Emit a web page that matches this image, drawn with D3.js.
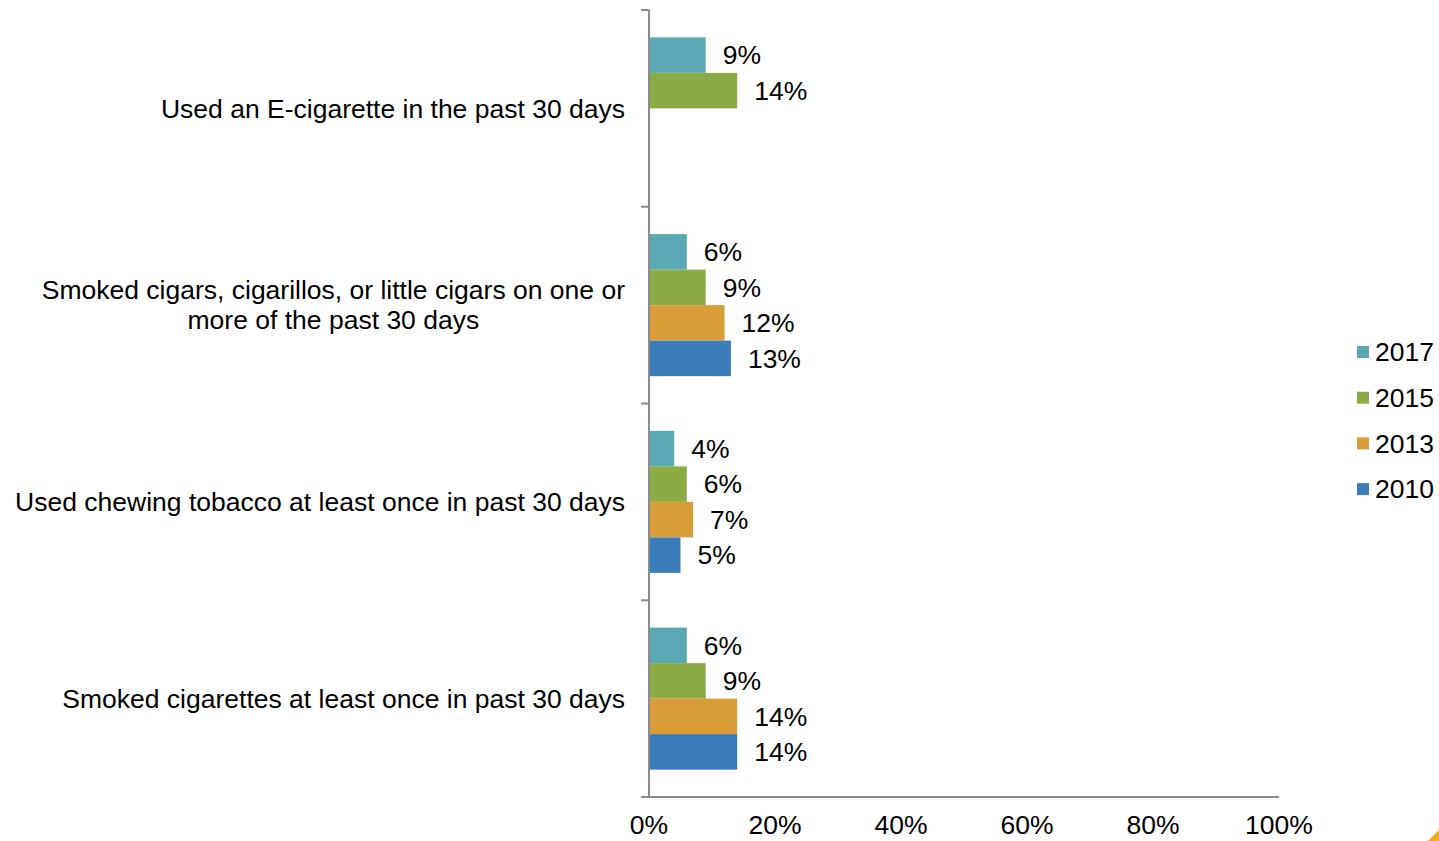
<!DOCTYPE html>
<html><head><meta charset="utf-8">
<script src="https://cdn.jsdelivr.net/npm/d3@7"></script>
<style>body{margin:0;background:#fff;}svg{display:block;font-family:"Liberation Sans",Arial,sans-serif;}</style>
</head><body>
<script>
const categories = [
  ["Used an E-cigarette in the past 30 days"],
  ["Smoked cigars, cigarillos, or little cigars on one or", "more of the past 30 days"],
  ["Used chewing tobacco at least once in past 30 days"],
  ["Smoked cigarettes at least once in past 30 days"]
];
const seriesNames = ["2017", "2015", "2013", "2010"];
const seriesColors = ["#5BA8B5", "#8BAB45", "#D99D38", "#3A7DBA"];
const values2017 = [9, 6, 4, 6];
const values2015 = [14, 9, 6, 9];
const values2013 = [null, 12, 7, 14];
const values2010 = [null, 13, 5, 14];
const xTicks = [0, 20, 40, 60, 80, 100];

const seriesValues = [values2017, values2015, values2013, values2010];
const W = 1439, H = 841;
const FS = 26.5;
const svg = d3.select("body").append("svg").attr("width", W).attr("height", H);

const x = d3.scaleLinear().domain([0, 100]).range([649, 1279]);
const y0 = d3.scaleBand().domain(d3.range(categories.length)).range([10, 797]);
const y1 = d3.scaleBand().domain(d3.range(seriesNames.length)).range([0, y0.bandwidth()]).paddingOuter(0.77).paddingInner(0);

// bars
categories.forEach((c, ci) => {
  const g = svg.append("g").attr("transform", `translate(0,${y0(ci)})`);
  seriesValues.forEach((vals, si) => {
    const v = vals[ci];
    if (v == null) return;
    g.append("rect").attr("x", x(0)).attr("y", y1(si)).attr("width", x(v) - x(0)).attr("height", y1.bandwidth())
      .attr("fill", seriesColors[si]);
    g.append("text").attr("x", x(v) + 17).attr("y", y1(si) + y1.bandwidth() / 2).attr("dy", "0.35em")
      .attr("font-size", FS).attr("fill", "#000").text(v + "%");
  });
});

// y axis
const axisColor = "#8c8c8c";
svg.append("line").attr("x1", x(0)).attr("x2", x(0)).attr("y1", 10).attr("y2", 797).attr("stroke", axisColor).attr("stroke-width", 2);
d3.range(categories.length + 1).forEach(i => {
  const yy = i < categories.length ? y0(i) : 797;
  svg.append("line").attr("x1", x(0) - 8).attr("x2", x(0)).attr("y1", yy).attr("y2", yy).attr("stroke", axisColor).attr("stroke-width", 2);
});
// x axis
svg.append("line").attr("x1", x(0) - 8).attr("x2", x(100)).attr("y1", 797).attr("y2", 797).attr("stroke", axisColor).attr("stroke-width", 2);
svg.selectAll(".xt").data(xTicks).enter().append("text")
  .attr("x", d => x(d)).attr("y", 834).attr("text-anchor", "middle")
  .attr("font-size", FS).text(d => d + "%");

// category labels
categories.forEach((lines, ci) => {
  const cy = y0(ci) + y0.bandwidth() / 2;
  const lh = 30;
  const t = svg.append("text").attr("font-size", FS).attr("text-anchor", "middle");
  const tmp = svg.append("text").attr("font-size", FS);
  let maxW = 0;
  lines.forEach(l => { tmp.text(l); maxW = Math.max(maxW, tmp.node().getComputedTextLength()); });
  tmp.remove();
  const cx = 625 - maxW / 2;
  lines.forEach((l, li) => {
    t.append("tspan").attr("x", cx).attr("y", cy + (li - (lines.length - 1) / 2) * lh).attr("dy", "0.35em").text(l);
  });
});

// legend
seriesNames.forEach((n, i) => {
  const ly = 352 + i * 45.7;
  svg.append("rect").attr("x", 1357).attr("y", ly - 6).attr("width", 12).attr("height", 12).attr("fill", seriesColors[i]);
  svg.append("text").attr("x", 1375).attr("y", ly).attr("dy", "0.35em").attr("font-size", FS).text(n);
});

// corner mark
svg.append("path").attr("d", `M${W},${H - 11} L${W},${H} L${W - 11},${H} Z`).attr("fill", "#F5A623");
</script>
</body></html>
